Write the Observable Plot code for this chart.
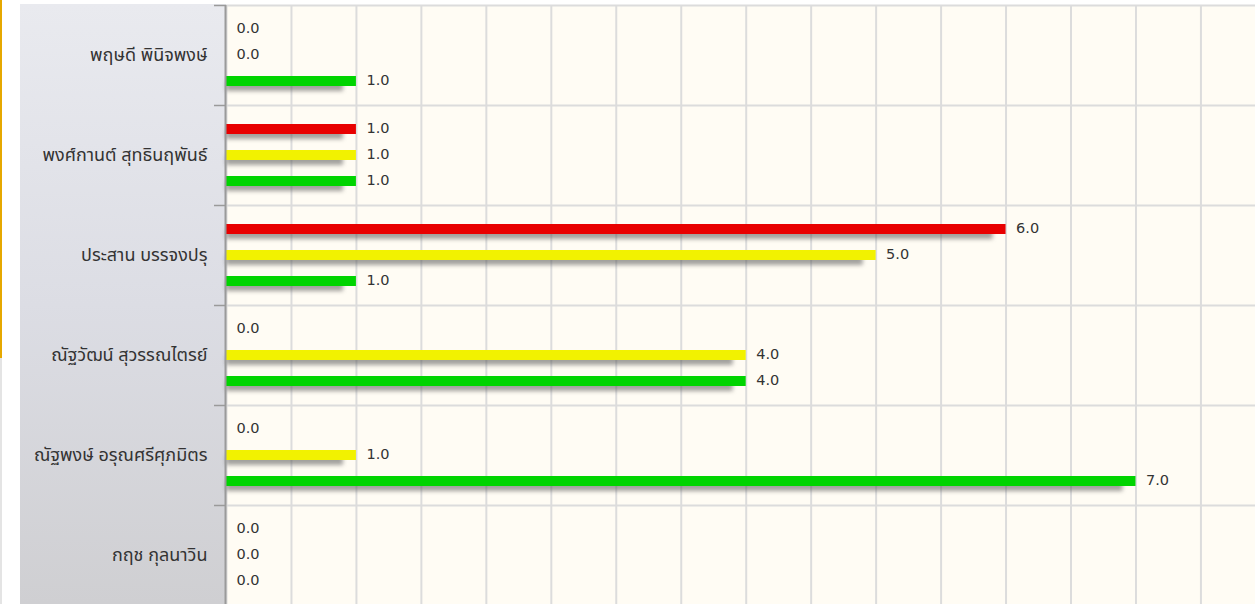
<!DOCTYPE html>
<html>
<head>
<meta charset="utf-8">
<script src="https://cdn.jsdelivr.net/npm/d3@7"></script>
<script src="https://cdn.jsdelivr.net/npm/@observablehq/plot@0.6"></script>
<style>
  html, body { margin: 0; padding: 0; background: #ffffff; overflow: hidden; }
  #wrap { position: relative; width: 1255px; height: 604px; overflow: hidden; }
  #edge { position: absolute; left: 0; top: 0; width: 2px; height: 358px; background: #e6a800; }
  #edge2 { position: absolute; left: 0; top: 358px; width: 2px; height: 246px; background: #e4e4e4; }
  #panel { position: absolute; left: 20px; top: 4px; width: 206px; height: 600px;
           background: linear-gradient(to bottom, #e9eaef 0%, #dcdde4 50%, #cfcfd2 100%); }
  #chart { position: absolute; left: 0; top: 0; }
  .shadowed { filter: blur(2px); }
</style>
</head>
<body>
<div id="wrap">
  <div id="edge"></div>
  <div id="edge2"></div>
  <div id="panel"></div>
  <div id="chart"></div>
</div>
<script>
// ---- data ----
const names = [
  "พฤษดี พินิจพงษ์",
  "พงศ์กานต์ สุทธินฤพันธ์",
  "ประสาน บรรจงปรุ",
  "ณัฐวัฒน์ สุวรรณไตรย์",
  "ณัฐพงษ์ อรุณศรีศุภมิตร",
  "กฤช กุลนาวิน"
];
const seriesKeys = ["s1", "s2", "s3"];
const seriesColors = ["#e80000", "#f2f200", "#00d400"];
const series1Values = [0, 1, 6, 0, 0, 0];
const series2Values = [0, 1, 5, 4, 1, 0];
const series3Values = [1, 1, 1, 4, 7, 0];
const gridTicks = d3.range(0, 8, 0.5);

const valuesBySeries = { s1: series1Values, s2: series2Values, s3: series3Values };
const rows = names.flatMap((name, i) =>
  seriesKeys.map(s => ({ name, series: s, value: valuesBySeries[s][i] }))
);
const positive = rows.filter(d => d.value > 0);

const thaiFont = "Tahoma, 'Noto Sans Thai', 'Noto Sans', 'DejaVu Sans', sans-serif";

const chart = Plot.plot({
  width: 1255,
  height: 605,
  marginLeft: 226,
  marginRight: 0,
  marginTop: 5,
  marginBottom: 0,
  facet: { marginTop: 0, marginBottom: 0, marginLeft: 0, marginRight: 0 },
  style: { background: "transparent", overflow: "visible" },
  x: { domain: [0, 7.92], axis: null },
  y: { domain: seriesKeys, axis: null, paddingInner: 0.6, paddingOuter: 0.72 },
  fy: { domain: names, padding: 0, axis: null, label: null },
  color: { domain: seriesKeys, range: seriesColors },
  marks: [
    Plot.frame({ fill: "#fffcf4", stroke: null }),
    Plot.gridX(gridTicks, { stroke: "#dcdcdc", strokeWidth: 2, strokeOpacity: 1 }),
    Plot.gridFy({ stroke: "#dcdcdc", strokeWidth: 2, strokeOpacity: 1, dy: -50 }),
    Plot.barX(positive, {
      x1: 0, x2: d => Math.max(0, d.value - 0.1),
      y: "series", fy: "name",
      fill: "#555", fillOpacity: 0.55, dy: 5,
      ariaLabel: () => "shadow",
      imageFilter: "blur(2px)"
    }),
    Plot.barX(rows, { x: "value", y: "series", fy: "name", fill: "series" }),
    Plot.text(rows, {
      x: "value", y: "series", fy: "name",
      text: d => d.value.toFixed(1),
      textAnchor: "start", dx: 10, dy: -1,
      fill: "#333", fontSize: 14.5, fontFamily: "'DejaVu Sans', sans-serif"
    }),
    Plot.ruleX([0], { stroke: "#9a9a9a", strokeWidth: 2, dx: -1 }),
    Plot.axisFy({
      anchor: "left", tickSize: 0, tickPadding: 19, label: null,
      fontSize: 18, fill: "#333", fontFamily: thaiFont
    }),
    Plot.axisFy({
      anchor: "left", tickSize: 12, tickFormat: () => "", label: null,
      stroke: "#9a9a9a", strokeWidth: 1.5, dy: -50
    })
  ]
});

document.getElementById("chart").appendChild(chart);
chart.querySelectorAll('[aria-label="shadow"]').forEach(el => {
  if (el.parentNode) el.parentNode.classList.add("shadowed");
});
</script>
</body>
</html>
